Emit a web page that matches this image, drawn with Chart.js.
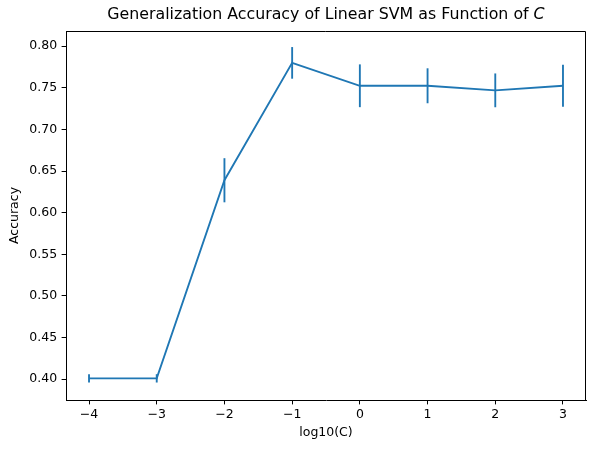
<!DOCTYPE html>
<html>
<head>
<meta charset="utf-8">
<script src="https://cdn.jsdelivr.net/npm/chart.js@4"></script>
<style>
  html, body { margin: 0; padding: 0; background: #fff; }
  #wrap { width: 596px; height: 452px; }
</style>
</head>
<body>
<div id="wrap"><canvas id="myChart" width="596" height="452"></canvas></div>
<script>
// values
const logC = [-4, -3, -2, -1, 0, 1, 2, 3]
const accuracy = [0.401, 0.401, 0.639, 0.780, 0.7525, 0.7525, 0.747, 0.7525]
const accErr = [0.005, 0.005, 0.0265, 0.019, 0.0257, 0.021, 0.0203, 0.0252]
const xTicks = [-4, -3, -2, -1, 0, 1, 2, 3]
const yTicks = [0.40, 0.45, 0.50, 0.55, 0.60, 0.65, 0.70, 0.75, 0.80]

const BLUE = '#1f77b4'
const FONT = '"DejaVu Sans", sans-serif'
const TICK_SIZE = 12.5
const TITLE_SIZE = 15.8

const errorBars = {
  id: 'errorBars',
  afterDatasetsDraw(chart) {
    const ctx = chart.ctx
    const x = chart.scales.x, y = chart.scales.y
    ctx.save()
    ctx.strokeStyle = BLUE
    ctx.lineWidth = 1.875
    logC.forEach((c, i) => {
      const px = x.getPixelForValue(c)
      ctx.beginPath()
      ctx.moveTo(px, y.getPixelForValue(accuracy[i] - accErr[i]))
      ctx.lineTo(px, y.getPixelForValue(accuracy[i] + accErr[i]))
      ctx.stroke()
    })
    ctx.restore()
  }
}

// top/right spines and the title with an italic C
const frameAndTitle = {
  id: 'frameAndTitle',
  afterDraw(chart) {
    const ctx = chart.ctx
    const a = chart.chartArea
    ctx.save()
    ctx.strokeStyle = '#000'
    ctx.lineWidth = 1
    ctx.beginPath()
    ctx.moveTo(a.left, a.top + 0.5)
    ctx.lineTo(a.right - 0.5, a.top + 0.5)
    ctx.lineTo(a.right - 0.5, a.bottom)
    ctx.stroke()

    const part1 = 'Generalization Accuracy of Linear SVM as Function of '
    const part2 = 'C'
    ctx.fillStyle = '#000'
    ctx.textBaseline = 'middle'
    ctx.font = TITLE_SIZE + 'px ' + FONT
    const w1 = ctx.measureText(part1).width
    ctx.font = 'italic ' + TITLE_SIZE + 'px ' + FONT
    const w2 = ctx.measureText(part2).width
    const startX = (a.left + a.right) / 2 - (w1 + w2) / 2
    ctx.textAlign = 'left'
    ctx.font = TITLE_SIZE + 'px ' + FONT
    ctx.fillText(part1, startX, 15)
    ctx.font = 'italic ' + TITLE_SIZE + 'px ' + FONT
    ctx.fillText(part2, startX + w1, 15)
    ctx.restore()
  }
}

const ctx = document.getElementById('myChart').getContext('2d')
const chart = new Chart(ctx, {
  type: 'line',
  data: {
    datasets: [{
      data: logC.map((c, i) => ({ x: c, y: accuracy[i] })),
      borderColor: BLUE,
      borderWidth: 1.875,
      pointRadius: 0,
      fill: false,
      tension: 0
    }]
  },
  options: {
    responsive: false,
    animation: false,
    devicePixelRatio: 1,
    layout: { padding: { top: 31, right: 10, left: 0, bottom: 0 } },
    plugins: {
      legend: { display: false },
      title: { display: false },
      tooltip: { enabled: false }
    },
    scales: {
      x: {
        type: 'linear',
        min: -4.34,
        max: 3.34,
        afterBuildTicks: scale => { scale.ticks = xTicks.map(v => ({ value: v })) },
        afterFit: scale => { scale.height = 52 },
        ticks: {
          color: '#000',
          font: { family: FONT, size: TICK_SIZE },
          padding: 3,
          maxRotation: 0,
          callback: v => String(v).replace('-', '\u2212')
        },
        grid: { drawOnChartArea: false, tickLength: 4.4, color: '#000', tickWidth: 1 },
        border: { display: true, color: '#000', width: 1 },
        title: {
          display: true,
          text: 'log10(C)',
          color: '#000',
          font: { family: FONT, size: TICK_SIZE },
          padding: { top: 0, bottom: 11.5 }
        }
      },
      y: {
        min: 0.375,
        max: 0.8183,
        afterBuildTicks: scale => { scale.ticks = yTicks.map(v => ({ value: v })) },
        afterFit: scale => { scale.width = 66 },
        ticks: {
          color: '#000',
          font: { family: FONT, size: TICK_SIZE },
          padding: 4.5,
          callback: v => v.toFixed(2)
        },
        grid: { drawOnChartArea: false, tickLength: 4.4, color: '#000', tickWidth: 1 },
        border: { display: true, color: '#000', width: 1 },
        title: {
          display: true,
          text: 'Accuracy',
          color: '#000',
          font: { family: FONT, size: TICK_SIZE },
          padding: { top: 7.5, bottom: 0 }
        }
      }
    }
  },
  plugins: [errorBars, frameAndTitle]
})
</script>
</body>
</html>
